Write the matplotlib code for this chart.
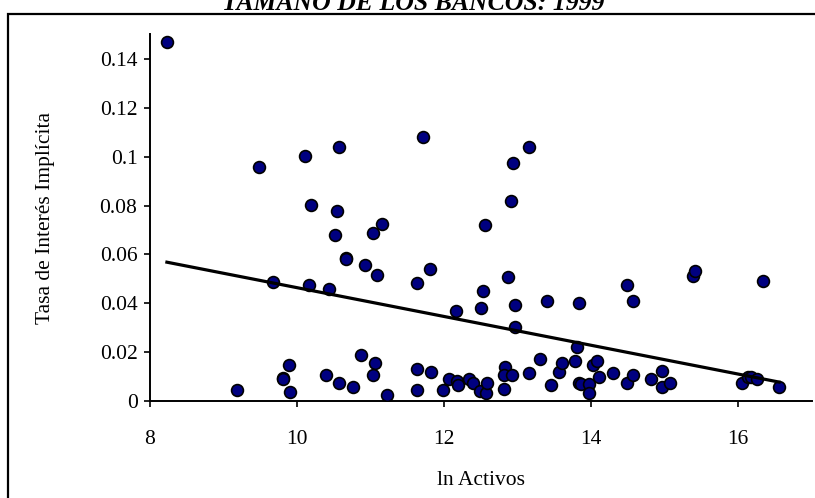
import numpy as np
import matplotlib
matplotlib.use("Agg")
import matplotlib.pyplot as plt
from matplotlib.patches import Rectangle

plt.rcParams["font.family"] = ["Liberation Serif", "DejaVu Serif"]

title = "TAMAÑO DE LOS BANCOS: 1999"
x_label = "ln Activos"
y_label = "Tasa de Interés Implícita"

# ln of assets per bank
ln_activos = [
    8.23, 9.48, 10.11, 10.57, 11.71, 10.19, 10.54, 11.15, 11.04, 10.52,
    13.16, 12.94, 12.91, 12.56, 10.66, 10.66, 10.93, 11.09, 9.68, 10.17,
    10.44, 11.63, 11.81, 12.16, 12.87, 12.53, 12.50, 12.97, 13.40, 13.84,
    14.49, 14.57, 15.39, 15.42, 16.34, 12.97, 13.81,
    9.19, 9.81, 9.81, 9.89, 9.91, 10.40, 10.57, 10.76, 10.87, 11.06,
    11.04, 11.22, 11.63, 11.82, 11.63, 11.99, 12.07, 12.18, 12.19, 12.34,
    12.40, 12.49, 12.57, 12.59, 12.83, 12.81, 12.92, 12.81, 13.16, 13.30,
    13.46, 13.57, 13.60, 13.78, 13.84, 13.87, 13.97, 13.97, 14.03, 14.08,
    14.11, 14.30, 14.49, 14.57, 14.82, 14.97, 14.97, 15.07, 16.05, 16.13,
    16.18, 16.26, 16.56,
]
# implicit interest rate
tasa = [
    0.1470, 0.0956, 0.1004, 0.1038, 0.1079, 0.0801, 0.0776, 0.0725, 0.0686, 0.0680,
    0.1038, 0.0973, 0.0817, 0.0720, 0.0587, 0.0580, 0.0556, 0.0514, 0.0488, 0.0474,
    0.0457, 0.0482, 0.0539, 0.0367, 0.0506, 0.0449, 0.0382, 0.0392, 0.0408, 0.0401,
    0.0473, 0.0408, 0.0513, 0.0532, 0.0491, 0.0303, 0.0219,
    0.0047, 0.0095, 0.0088, 0.0146, 0.0038, 0.0106, 0.0072, 0.0056, 0.0188, 0.0154,
    0.0106, 0.0024, 0.0130, 0.0120, 0.0047, 0.0047, 0.0090, 0.0082, 0.0065, 0.0090,
    0.0072, 0.0041, 0.0031, 0.0072, 0.0140, 0.0106, 0.0106, 0.0048, 0.0113, 0.0171,
    0.0065, 0.0120, 0.0157, 0.0162, 0.0075, 0.0068, 0.0068, 0.0034, 0.0147, 0.0162,
    0.0098, 0.0115, 0.0072, 0.0106, 0.0089, 0.0121, 0.0056, 0.0072, 0.0072, 0.0097,
    0.0100, 0.0089, 0.0056,
]

x_ticks = [8, 10, 12, 14, 16]
y_ticks = [0, 0.02, 0.04, 0.06, 0.08, 0.1, 0.12, 0.14]
y_tick_labels = ["0", "0.02", "0.04", "0.06", "0.08", "0.1", "0.12", "0.14"]

fig = plt.figure(figsize=(8.15, 4.98), dpi=100)
ax = fig.add_axes([150 / 815, 97 / 498, 661.5 / 815, 366.5 / 498])

x = np.array(ln_activos)
y = np.array(tasa)

ax.plot(x, y, linestyle="none", marker="o", markersize=8.5,
        markerfacecolor="#000080", markeredgecolor="black", markeredgewidth=1.2,
        zorder=3)

# linear trend line over the data range
slope, intercept = np.polyfit(x, y, 1)
xs = np.array([x.min(), x.max()])
ax.plot(xs, intercept + slope * xs, color="black", linewidth=2.3, zorder=4)

ax.set_xlim(8, 17)
ax.set_ylim(0, 0.15)
ax.set_xticks(x_ticks)
ax.set_yticks(y_ticks)
ax.set_yticklabels(y_tick_labels)
ax.tick_params(axis="both", direction="out", length=4, width=1.2,
               labelsize=15.5, colors="black", pad=5)
ax.tick_params(axis="x", pad=17)

for side in ("top", "right"):
    ax.spines[side].set_visible(False)
for side in ("left", "bottom"):
    ax.spines[side].set_linewidth(1.4)

ax.set_xlabel(x_label, fontsize=15.5, labelpad=16)
ax.set_ylabel(y_label, fontsize=15.5, labelpad=32)

# outer frame, partly cut off by the image edges
fig.patches.append(Rectangle((8 / 815, -0.05), 1.2, 1 - 14 / 498 + 0.05,
                             transform=fig.transFigure, fill=False,
                             edgecolor="black", linewidth=1.6, clip_on=False))
fig.text(413 / 815, 1 - 10 / 498, title, ha="center", va="baseline",
         fontsize=18.5, fontweight="bold", fontstyle="italic")

fig.savefig("out.png", dpi=100)
